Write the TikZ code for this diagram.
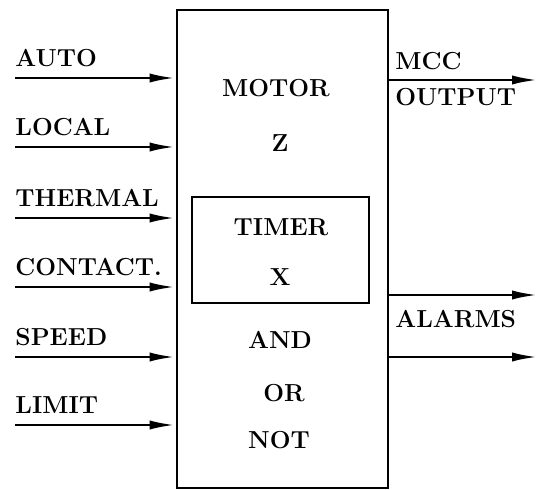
\documentclass[tikz,border=0pt]{standalone}
\usepackage{tikz}
\usetikzlibrary{arrows.meta,positioning}
\tikzset{
  sig/.style={line width=1.4pt,-{Latex[length=13pt,width=4.6pt]}},
  blk/.style={draw,line width=1.4pt,inner sep=0pt},
  lab/.style={inner sep=0pt,anchor=base west},
  txt/.style={inner sep=0pt}
}
\begin{document}
\begin{tikzpicture}[x=0.5pt,y=-0.5pt,font=\fontsize{12.3}{14}\selectfont\bfseries]
\useasboundingbox (0,0) rectangle (539,490);
% main block and timer
\node[blk,minimum width=105.5pt,minimum height=239pt] (motor) at (282.5,249) {};
\node[blk,minimum width=88.5pt,minimum height=53pt] (timer) at (280.5,250) {};
\node[txt] (mname) at (276,88) {MOTOR};
\node[txt] (mz) at (280,143) {Z};
\node[txt] (tname) at (281,227) {TIMER};
\node[txt] (tx) at (280,277) {X};
\node[txt] (gand) at (280,340) {AND};
\node[txt] (gor) at (284,393) {OR};
\node[txt] (gnot) at (279,440) {NOT};
% inputs
\foreach \name/\y/\txt in {auto/78/AUTO,local/147/LOCAL,thermal/218/THERMAL,
    contact/287/CONTACT.,speed/357/SPEED,limit/425/LIMIT}{
  \coordinate (\name) at (15,\y);
  \node[lab] (\name-l) at (15,\y-11) {\txt};
  \draw[sig] (\name) -- (\name -| motor.west);
}
% outputs
\coordinate (mcc) at (538,80);
\coordinate (alarm1) at (538,295);
\coordinate (alarm2) at (538,357);
\draw[sig] (mcc -| motor.east) -- (mcc);
\draw[sig] (alarm1 -| motor.east) -- (alarm1);
\draw[sig] (alarm2 -| motor.east) -- (alarm2);
\node[lab] (mcc-l) at (395,70) {MCC};
\node[lab,anchor=north west] (out-l) at (395,88) {OUTPUT};
\node[lab] (alarm-l) at (395,328) {ALARMS};
\end{tikzpicture}
\end{document}
